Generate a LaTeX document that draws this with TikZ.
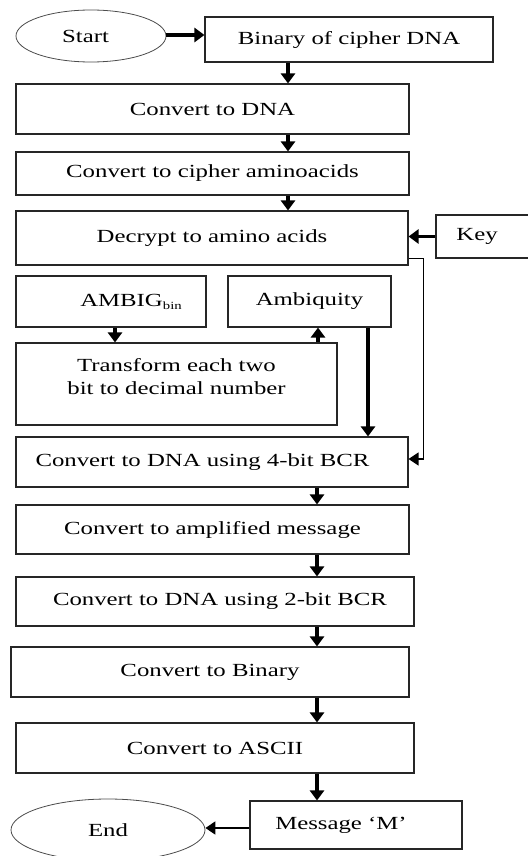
\documentclass[tikz,border=0pt]{standalone}
\usepackage{fontspec}
\setmainfont{Liberation Serif}[FakeStretch=1.34]
\usetikzlibrary{arrows.meta,shapes.geometric}
\begin{document}
\begin{tikzpicture}[x=1pt,y=-1pt,
  txt/.style={font=\fontsize{18.5}{23}\selectfont},
  box/.style={txt,draw=black!85,line width=1.1pt,rectangle,inner sep=0pt,align=center},
  oval/.style={txt,draw=black!70,line width=0.8pt,ellipse,inner sep=0pt},
  flow/.style={line width=3.3pt,-{Triangle[length=10pt,width=14pt]}},
  thinflow/.style={line width=1.2pt,-{Triangle[length=10pt,width=13pt]}},
  side/.style={line width=1.8pt,-{Triangle[length=10pt,width=13pt]}}]
\useasboundingbox (0,0) rectangle (527,856);

% terminals
\node[oval,minimum width=150pt,minimum height=52pt] (start) at (91,36) {Start\hspace*{11pt}};
\node[oval,minimum width=194pt,minimum height=62pt] (end) at (108,830) {End};

% process boxes
\node[box,minimum width=288pt,minimum height=45pt] (bin) at (349,39.5) {Binary of cipher DNA};
\node[box,minimum width=393pt,minimum height=50pt] (dna) at (212.5,109) {Convert to DNA};
\node[box,minimum width=393pt,minimum height=43pt] (cip) at (212.5,173.5) {Convert to cipher aminoacids};
\node[box,minimum width=392pt,minimum height=54pt] (dec) at (212,238) {Decrypt to amino acids};
\node[box,minimum width=99pt,minimum height=43pt] (key) at (485.5,236.5) {Key\hspace*{17pt}};
\node[box,minimum width=190pt,minimum height=51pt] (ambig) at (111,301.5)
  {\hspace*{40pt}AMBIG\raisebox{-3pt}{\fontsize{11}{11}\selectfont bin}};
\node[box,minimum width=163pt,minimum height=51pt] (amq) at (309.5,301.5) {Ambiquity};
\node[box,minimum width=321pt,minimum height=82pt] (trans) at (176.5,384)
  {Transform each two\\bit to decimal number\rule[-15pt]{0pt}{0pt}};
\node[box,minimum width=392pt,minimum height=50pt] (bcr4) at (212,462) {Convert to DNA using 4-bit BCR\hspace*{19pt}};
\node[box,minimum width=393pt,minimum height=49pt] (amp) at (212.5,529.5) {Convert to amplified message};
\node[box,minimum width=398pt,minimum height=49pt] (bcr2) at (215,601.5) {\hspace*{10pt}Convert to DNA using 2-bit BCR};
\node[box,minimum width=398pt,minimum height=50pt] (binr) at (210,672) {Convert to Binary};
\node[box,minimum width=398pt,minimum height=50pt] (ascii) at (215,748) {Convert to ASCII};
\node[box,minimum width=212pt,minimum height=48pt] (msg) at (356,825) {Message ‘M’\hspace*{30pt}};

% columns of the vertical connectors
\coordinate (colA) at (288,0);
\coordinate (colB) at (317,0);
\coordinate (colL) at (115,0);
\coordinate (colT) at (318,0);
\coordinate (colQ) at (368,0);

% connectors
\draw[flow] ([yshift=1pt]start.east) -- ([yshift=1pt]start.east -| bin.west);
\draw[flow] (bin.south -| colA) -- (dna.north -| colA);
\draw[flow] (dna.south -| colA) -- (cip.north -| colA);
\draw[flow] (cip.south -| colA) -- (dec.north -| colA);
\draw[flow] (key.west) -- (key.west -| dec.east);
\draw[thinflow] ([yshift=7pt]dec.south east) -- ++(15,0) |- ([yshift=3pt]bcr4.east);
\draw[flow] (ambig.south -| colL) -- (trans.north -| colL);
\draw[flow] (trans.north -| colT) -- (amq.south -| colT);
\draw[flow] (amq.south -| colQ) -- (bcr4.north -| colQ);
\draw[flow] (bcr4.south -| colB) -- (amp.north -| colB);
\draw[flow] (amp.south -| colB) -- (bcr2.north -| colB);
\draw[flow] (bcr2.south -| colB) -- (binr.north -| colB);
\draw[flow] (binr.south -| colB) -- (ascii.north -| colB);
\draw[flow] (ascii.south -| colB) -- (msg.north -| colB);
\draw[side] ([yshift=-3pt]msg.west) -- ([yshift=-3pt]msg.west -| end.east);
\end{tikzpicture}
\end{document}
